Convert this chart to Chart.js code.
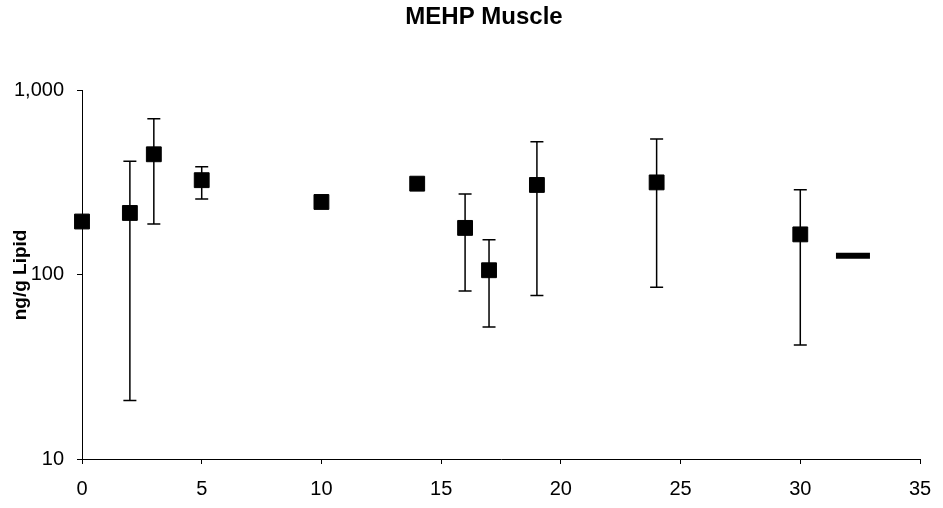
<!DOCTYPE html>
<html>
<head>
<meta charset="utf-8">
<title>MEHP Muscle</title>
<script src="https://cdn.jsdelivr.net/npm/chart.js@4"></script>
<style>
  body { margin: 0; background: #fff; }
  #wrap { width: 943px; height: 508px; }
</style>
</head>
<body>
<div id="wrap"><canvas id="chartCanvas"></canvas></div>
<script>
// values
const days = [0, 2, 3, 5, 10, 14, 16, 17, 19, 24, 30];
const means = [195, 217, 452, 327, 249, 313, 180, 106, 308, 318, 166];
const upper = [null, 414, 705, 387, null, null, 275, 155, 529, 548, 290];
const lower = [null, 20.8, 189, 258, null, null, 81.8, 52.2, 77.3, 85.8, 41.6];

// the single dash marker on the right
const dashDays = [32.2];
const dashValues = [127];

const xTicks = [0, 5, 10, 15, 20, 25, 30, 35];
const yTicks = [10, 100, 1000];

const FONT = "'Liberation Sans', Arial, sans-serif";

const errorBars = {
    id: "errorBars",
    beforeDatasetsDraw(chart) {
        const ctx = chart.ctx;
        const xs = chart.scales.x;
        const ys = chart.scales.y;
        const cap = 6.5;
        ctx.save();
        ctx.strokeStyle = "#000";
        ctx.lineWidth = 1.5;
        days.forEach((d, i) => {
            if (upper[i] == null || lower[i] == null) return;
            const px = xs.getPixelForValue(d);
            const top = ys.getPixelForValue(upper[i]);
            const bot = ys.getPixelForValue(lower[i]);
            ctx.beginPath();
            ctx.moveTo(px, top);
            ctx.lineTo(px, bot);
            ctx.moveTo(px - cap, top);
            ctx.lineTo(px + cap, top);
            ctx.moveTo(px - cap, bot);
            ctx.lineTo(px + cap, bot);
            ctx.stroke();
        });
        ctx.restore();
    }
};

// the title sits a little left of the plot centre in the original
const titleShift = {
    id: "titleShift",
    afterLayout(chart) {
        if (!chart.titleBlock) return;
        chart.titleBlock.left -= 17;
        chart.titleBlock.right -= 17;
    }
};

const chart = new Chart(document.getElementById("chartCanvas"), {
    type: "scatter",
    data: {
        datasets: [
            {
                label: "MEHP",
                data: days.map((d, i) => ({ x: d, y: means[i] })),
                pointStyle: "rect",
                pointRadius: 10.5,
                backgroundColor: "#000",
                borderColor: "#000",
                borderWidth: 1,
                clip: false
            },
            {
                label: "dash",
                data: dashDays.map((d, i) => ({ x: d, y: dashValues[i] })),
                pointStyle: "line",
                pointRadius: 17,
                borderColor: "#000",
                borderWidth: 6,
                clip: false
            }
        ]
    },
    options: {
        responsive: true,
        maintainAspectRatio: false,
        animation: false,
        layout: { padding: { left: 0, right: 13, top: 0, bottom: 0 } },
        plugins: {
            legend: { display: false },
            tooltip: { enabled: false },
            title: {
                display: true,
                fullSize: false,
                text: "MEHP Muscle",
                color: "#000",
                font: { family: FONT, size: 24, weight: "bold" },
                padding: { top: 3, bottom: 59 }
            }
        },
        scales: {
            x: {
                type: "linear",
                min: 0,
                max: 35,
                afterBuildTicks: s => { s.ticks = xTicks.map(v => ({ value: v })); },
                afterFit: s => {
                    s.height = 49;
                    s.paddingLeft = 0;
                    s.paddingRight = 0;
                },
                grid: { drawOnChartArea: false, drawTicks: true, tickLength: 5, color: "#000" },
                border: { display: true, color: "#000", width: 1 },
                ticks: {
                    color: "#000",
                    padding: 13,
                    maxRotation: 0,
                    font: { family: FONT, size: 20 }
                }
            },
            y: {
                type: "logarithmic",
                min: 10,
                max: 1000,
                afterBuildTicks: s => { s.ticks = yTicks.map(v => ({ value: v })); },
                afterFit: s => { s.width = 82; },
                grid: { drawOnChartArea: false, drawTicks: true, tickLength: 5, color: "#000" },
                border: { display: true, color: "#000", width: 1 },
                ticks: {
                    color: "#000",
                    padding: 13,
                    font: { family: FONT, size: 20 },
                    callback: v => v.toLocaleString("en-US")
                },
                title: {
                    display: true,
                    text: "ng/g Lipid",
                    color: "#000",
                    font: { family: FONT, size: 19, weight: "bold" },
                    padding: { top: 9, bottom: 0 }
                }
            }
        }
    },
    plugins: [errorBars, titleShift]
});
</script>
</body>
</html>
